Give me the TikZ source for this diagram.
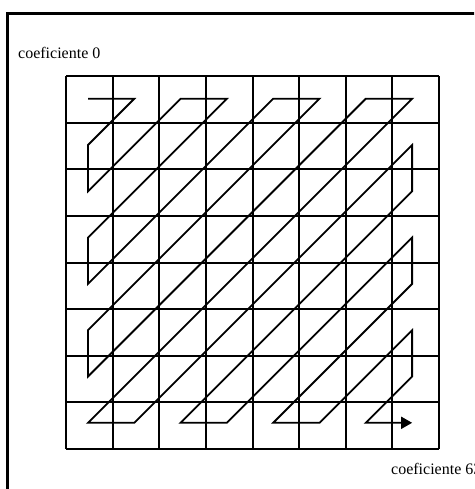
\documentclass[tikz,border=0pt]{standalone}
\usepackage{fontspec}
\setmainfont{Liberation Serif}
\usetikzlibrary{arrows.meta,positioning}

\begin{document}
\begin{tikzpicture}[
    x=1pt, y=-1pt,
    frame/.style={draw, line width=3pt},
    cellline/.style={draw, line width=2pt},
    zigzag/.style={draw, line width=1.8pt, -{Triangle[length=11pt,width=12pt]}},
    coef/.style={font=\fontsize{16}{19}\selectfont, inner sep=0pt, anchor=base west}
]
\clip (0,0) rectangle (474,489);
\draw[frame] (7.5,13.5) rectangle (490,500);

% 8x8 block
\foreach \i in {0,...,8} {
    \pgfmathsetmacro{\gx}{round(66+46.625*\i)}
    \pgfmathsetmacro{\gy}{round(76+46.625*\i)}
    \draw[cellline] (\gx,76) -- (\gx,449);
    \draw[cellline] (66,\gy) -- (439,\gy);
}

% coefficient positions
\foreach \c in {0,...,7}
    \foreach \r in {0,...,7}
        \coordinate (p\c\r) at ({88+46.3*\c},{98.7+46.3*\r});

\draw[zigzag] (p00) -- (p10) -- (p01) -- (p02) -- (p20) -- (p30) -- (p03)
    -- (p04) -- (p40) -- (p50) -- (p05) -- (p06) -- (p60) -- (p70) -- (p07)
    -- (p17) -- (p71) -- (p72) -- (p27) -- (p37) -- (p73) -- (p74) -- (p47)
    -- (p57) -- (p75) -- (p76) -- (p67) -- (p77);

\node[coef] (coef0) at (18,59) {coeficiente 0};
\node[coef] (coef63) at (391,474) {coeficiente 63};
\end{tikzpicture}
\end{document}
